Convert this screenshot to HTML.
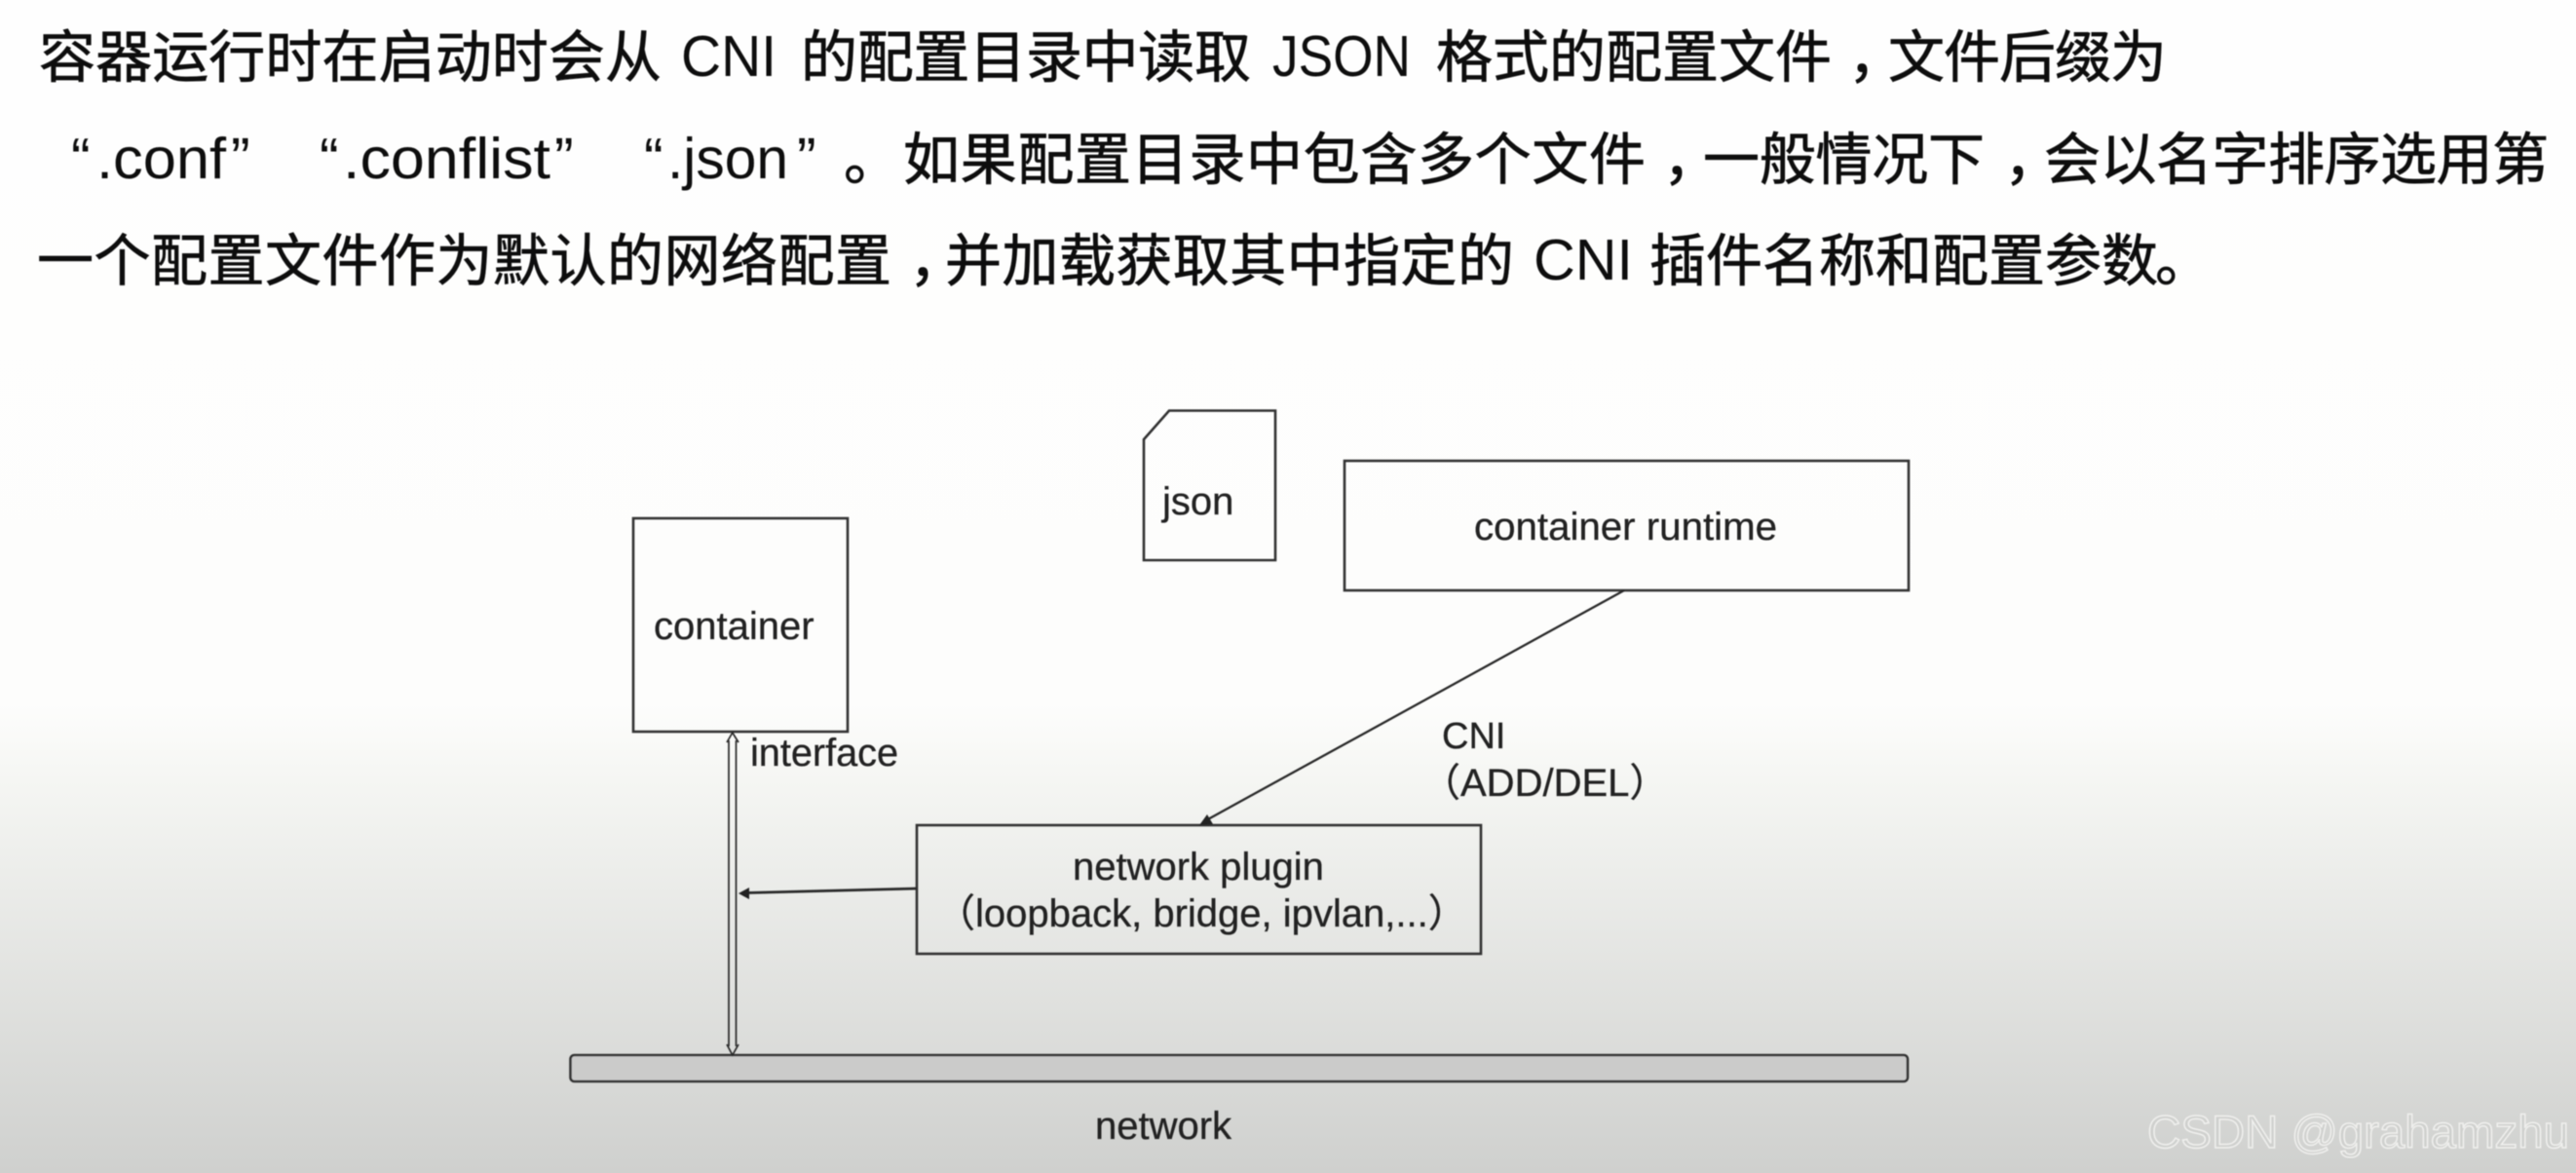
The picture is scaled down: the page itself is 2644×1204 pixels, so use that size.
<!DOCTYPE html>
<html lang="zh">
<head>
<meta charset="utf-8">
<title>CNI diagram</title>
<style>
html,body{margin:0;padding:0;width:2644px;height:1204px;overflow:hidden;background:#fefefe}
svg{display:block;position:absolute;left:0;top:0}
.t{font-family:"Noto Sans CJK SC","Liberation Sans",sans-serif;font-size:58px;fill:#0a0a0a;stroke:#0a0a0a;stroke-width:.7px}
.l{font-family:"Liberation Sans","Noto Sans CJK SC",sans-serif;font-size:59px;fill:#0c0c0c}
.d{font-family:"Liberation Sans","Noto Sans CJK SC",sans-serif;font-size:40px;fill:#222;stroke:#222;stroke-width:.3px}
.wm{font-family:"Liberation Sans",sans-serif;font-size:47.4px;fill:#cfd0ce;stroke:#f0f0ee;stroke-width:1.5px}
</style>
</head>
<body>
<svg width="2644" height="1204" viewBox="0 0 2644 1204" xmlns="http://www.w3.org/2000/svg">
<defs>
<linearGradient id="bg" x1="0" y1="0" x2="0" y2="1204" gradientUnits="userSpaceOnUse">
<stop offset="0" stop-color="#fefefe"/>
<stop offset="0.6" stop-color="#fdfdfc"/>
<stop offset="0.665" stop-color="#f5f6f3"/>
<stop offset="1" stop-color="#cfd0ce"/>
</linearGradient>
<filter id="b" x="0" y="0" width="100%" height="100%"><feGaussianBlur stdDeviation="0.6"/></filter>
</defs>
<rect x="0" y="0" width="2644" height="1204" fill="url(#bg)"/>
<g filter="url(#b)">
<!-- Heading line 1 -->
<text class="t" x="40" y="79" textLength="639">容器运行时在启动时会从</text>
<text class="l" x="699" y="78" textLength="98" lengthAdjust="spacingAndGlyphs">CNI</text>
<text class="t" x="822" y="79" textLength="462">的配置目录中读取</text>
<text class="l" x="1306" y="78" textLength="142" lengthAdjust="spacingAndGlyphs">JSON</text>
<text class="t" x="1474" y="79" textLength="406">格式的配置文件</text>
<text class="t" x="1897" y="79">，</text>
<text class="t" x="1938" y="79" textLength="286">文件后缀为</text>
<!-- Heading line 2 -->
<text class="l" x="73" y="183">“</text>
<text class="l" x="99" y="183" textLength="133" lengthAdjust="spacingAndGlyphs">.conf</text>
<text class="l" x="237" y="183">”</text>
<text class="l" x="328" y="183">“</text>
<text class="l" x="352" y="183" textLength="213" lengthAdjust="spacingAndGlyphs">.conflist</text>
<text class="l" x="569" y="183">”</text>
<text class="l" x="661" y="183">“</text>
<text class="l" x="685" y="183" textLength="124" lengthAdjust="spacingAndGlyphs">.json</text>
<text class="l" x="818" y="183">”</text>
<text class="t" x="866" y="184">。</text>
<text class="t" x="927" y="184" textLength="762">如果配置目录中包含多个文件</text>
<text class="t" x="1707" y="184">，</text>
<text class="t" x="1748" y="184" textLength="289">一般情况下</text>
<text class="t" x="2057" y="184">，</text>
<text class="t" x="2098" y="184" textLength="518">会以名字排序选用第</text>
<!-- Heading line 3 -->
<text class="t" x="38" y="288" textLength="877">一个配置文件作为默认的网络配置</text>
<text class="t" x="933" y="288">，</text>
<text class="t" x="970" y="288" textLength="584">并加载获取其中指定的</text>
<text class="l" x="1574" y="287" textLength="102" lengthAdjust="spacingAndGlyphs">CNI</text>
<text class="t" x="1693" y="288" textLength="522">插件名称和配置参数</text>
<text class="t" x="2212" y="288">。</text>

<!-- Diagram shapes -->
<g fill="none" stroke="#333" stroke-width="2.6">
<rect x="650" y="532" width="220" height="219"/>
<path d="M1200 421.5H1309V575H1174V451Z"/>
<rect x="1380" y="473" width="579" height="133"/>
<rect x="941" y="847" width="579" height="132"/>
<rect x="585.5" y="1083" width="1372.5" height="27" rx="4" ry="4" fill="#cbcbca"/>
</g>
<!-- Connectors -->
<g stroke="#2a2a2a" fill="none">
<line x1="1667" y1="606" x2="1238" y2="842" stroke-width="2.3"/>
<line x1="941" y1="912" x2="765" y2="916.5" stroke-width="2.8"/>
<line x1="748" y1="760" x2="748" y2="1074" stroke-width="1.7"/>
<line x1="755.5" y1="760" x2="755.5" y2="1074" stroke-width="1.7"/>
<path d="M746 762L751.8 752L758 762" stroke-width="1.7"/>
<path d="M746 1072L751.8 1083L758 1072" stroke-width="1.7"/>
</g>
<polygon points="1231,847 1239,836 1245,846" fill="#222"/>
<polygon points="758,917 769,911 769,923" fill="#222"/>

<!-- Diagram labels -->
<text class="d" x="1193" y="528">json</text>
<text class="d" x="671" y="656">container</text>
<text class="d" x="1513" y="554" textLength="311" lengthAdjust="spacingAndGlyphs">container runtime</text>
<text class="d" x="770" y="786" textLength="152" lengthAdjust="spacingAndGlyphs">interface</text>
<text class="d" x="1480" y="768" style="font-size:38px">CNI</text>
<text class="d" x="1459" y="817">（ADD/DEL）</text>
<text class="d" x="1101" y="903">network plugin</text>
<text class="d" x="961" y="951">（loopback, bridge, ipvlan,...）</text>
<text class="d" x="1124" y="1169">network</text>
<text class="wm" x="2204" y="1178" textLength="433" lengthAdjust="spacingAndGlyphs">CSDN @grahamzhu</text>
</g>
</svg>
</body>
</html>
